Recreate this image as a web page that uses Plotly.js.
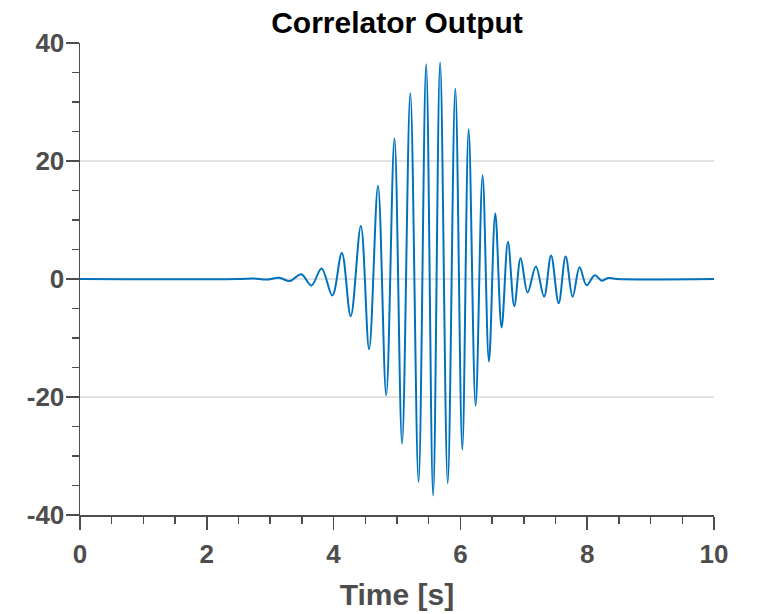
<!DOCTYPE html>
<html>
<head>
<meta charset="utf-8">
<script src="https://cdn.plot.ly/plotly-3.0.1.min.js"></script>
<style>html,body{margin:0;padding:0;background:#fff;}#chart{width:758px;height:614px;}</style>
</head>
<body>
<div id="chart"></div>
<script>
// Extrema (time in seconds, correlator output)
var timeS = [0, 2.5, 2.73, 2.94, 3.14, 3.31, 3.49, 3.65, 3.81, 3.98,
  4.13, 4.27, 4.43, 4.56, 4.70, 4.83, 4.96, 5.08, 5.21, 5.34,
  5.46, 5.57, 5.68, 5.80, 5.92, 6.03, 6.13, 6.24, 6.35, 6.45,
  6.55, 6.65, 6.75, 6.85, 6.95, 7.06, 7.19, 7.32, 7.43, 7.55,
  7.66, 7.77, 7.88, 7.99, 8.12, 8.23, 8.33, 8.47, 10];
var output = [0, 0, 0.1, -0.1, 0.2, -0.35, 0.8, -1.1, 1.8, -2.8,
  4.4, -6.3, 9.0, -11.9, 15.8, -19.7, 23.8, -27.9, 31.5, -34.4,
  36.4, -36.7, 36.7, -34.6, 32.3, -28.9, 25.4, -21.5, 17.6, -14.0,
  11.1, -8.2, 6.3, -4.6, 3.5, -2.3, 2.1, -3.0, 4.0, -4.1,
  3.8, -3.0, 2.0, -1.05, 0.65, -0.3, 0.17, 0, 0];
var xTickVals = [0, 2, 4, 6, 8, 10];
var yTickVals = [-40, -20, 0, 20, 40];

var axisColor = '#4d4d4d';
var tickFont = {family: 'Liberation Sans, Arial, sans-serif', size: 26, color: axisColor, weight: 'bold'};

var trace = {
  x: timeS, y: output, type: 'scatter', mode: 'lines',
  line: {color: '#0072BD', width: 2, shape: 'spline', smoothing: 1},
  hoverinfo: 'skip'
};

var layout = {
  width: 758, height: 614,
  margin: {l: 80, r: 44, t: 43, b: 99},
  paper_bgcolor: '#ffffff', plot_bgcolor: '#ffffff',
  showlegend: false,
  title: {
    text: 'Correlator Output',
    font: {family: 'Liberation Sans, Arial, sans-serif', size: 30, color: '#000000', weight: 'bold'},
    x: 0.5, xref: 'paper', xanchor: 'center',
    y: 1 - 22 / 614, yref: 'container', yanchor: 'middle'
  },
  xaxis: {
    range: [0, 10], tickvals: xTickVals, ticktext: xTickVals.map(String),
    showgrid: false, zeroline: false,
    showline: true, linecolor: axisColor, linewidth: 1.5,
    ticks: 'outside', ticklen: 13, tickwidth: 1.5, tickcolor: axisColor,
    tickfont: tickFont, ticklabelstandoff: 2,
    minor: {dtick: 0.5, ticks: 'outside', ticklen: 7, tickwidth: 1.5, tickcolor: axisColor, showgrid: false},
    title: {text: 'Time [s]', font: {family: 'Liberation Sans, Arial, sans-serif', size: 30, color: axisColor, weight: 'bold'}, standoff: 16}
  },
  yaxis: {
    range: [-40, 40], tickvals: yTickVals, ticktext: yTickVals.map(String),
    showgrid: true, gridcolor: '#e3e3e3', gridwidth: 1.2,
    zeroline: false,
    showline: true, linecolor: axisColor, linewidth: 1.5,
    ticks: 'outside', ticklen: 13, tickwidth: 1.5, tickcolor: axisColor,
    tickfont: tickFont, ticklabelstandoff: -4,
    minor: {dtick: 5, ticks: 'outside', ticklen: 7, tickwidth: 1.5, tickcolor: axisColor, showgrid: false}
  }
};

Plotly.newPlot('chart', [trace], layout, {displayModeBar: false, staticPlot: true});
</script>
</body>
</html>
